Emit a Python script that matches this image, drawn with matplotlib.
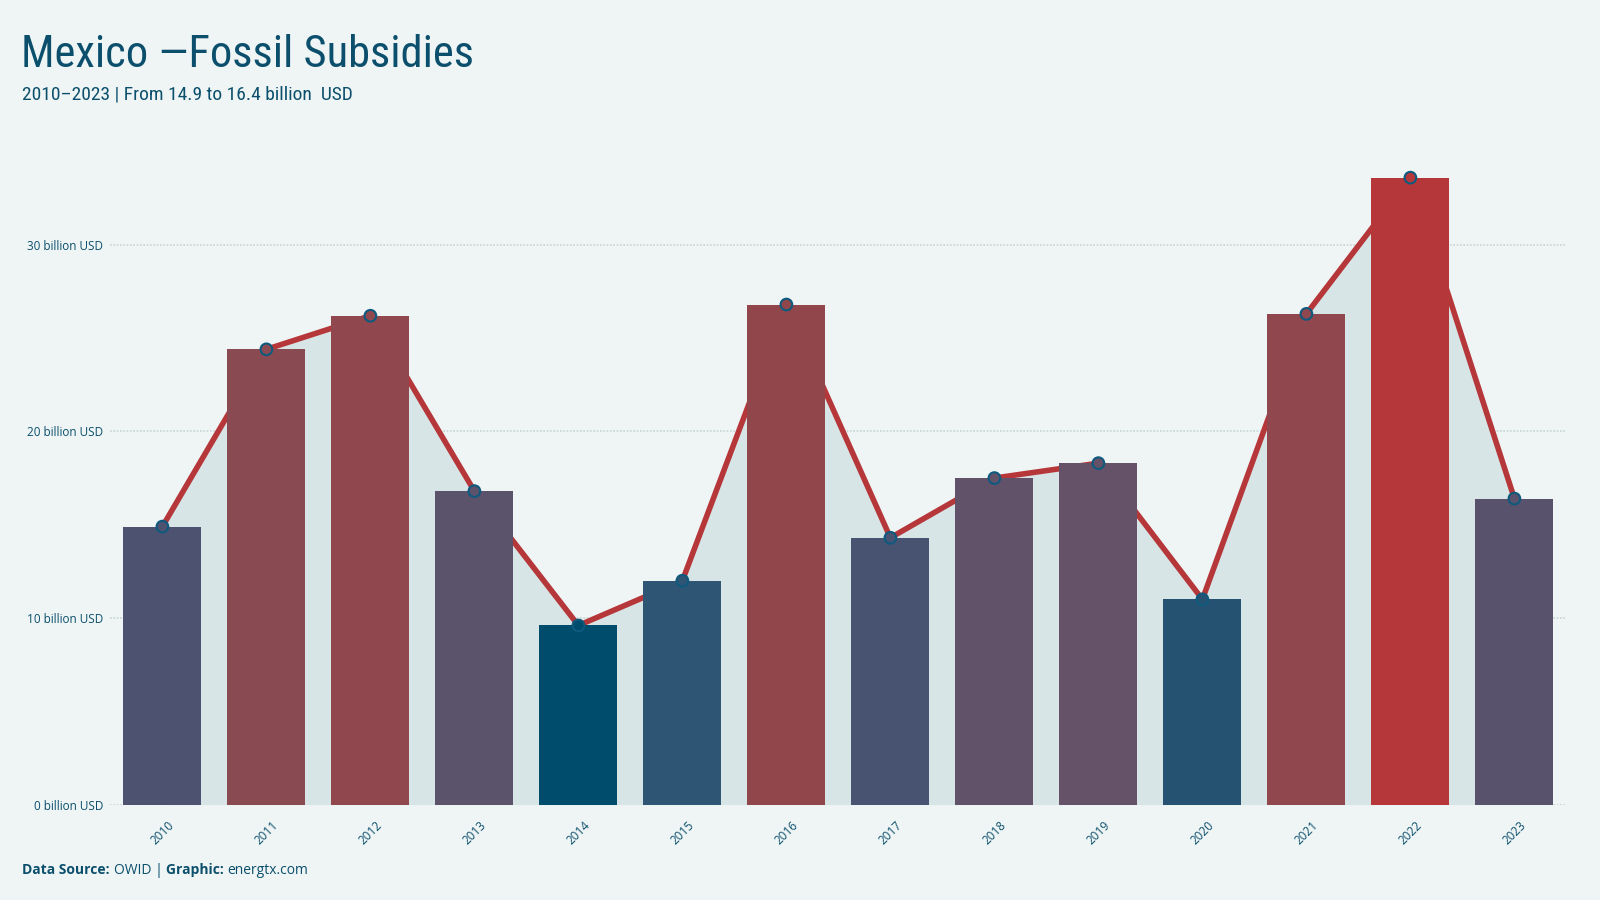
import numpy as np
import matplotlib
matplotlib.use("Agg")
import matplotlib.pyplot as plt
from matplotlib.colors import LinearSegmentedColormap, Normalize

# data (billion USD)
years = ["2010", "2011", "2012", "2013", "2014", "2015", "2016",
         "2017", "2018", "2019", "2020", "2021", "2022", "2023"]
subsidies = [14.9, 24.4, 26.2, 16.8, 9.6, 12.0, 26.8,
             14.3, 17.5, 18.3, 11.0, 26.3, 33.6, 16.4]
y_ticks = [0, 10, 20, 30]
y_tick_labels = ["0 billion USD", "10 billion USD", "20 billion USD", "30 billion USD"]

bg = "#eff5f5"
txt = "#0b4f6c"
red = "#b5373a"

cmap = LinearSegmentedColormap.from_list(
    "bluered",
    [(0.0, "#004c6d"), (0.06, "#2a5371"), (0.1, "#2e5573"), (0.22, "#4d5270"),
     (0.36, "#665268"), (0.62, "#8b4a52"), (0.75, "#934549"), (1.0, "#b5373a")])
norm = Normalize(min(subsidies), max(subsidies))
colors = [cmap(norm(v)) for v in subsidies]

plt.rcParams['font.family'] = ['Open Sans', 'DejaVu Sans']

fig = plt.figure(figsize=(16, 9), dpi=100, facecolor=bg)
ax = fig.add_axes([0.069, 0.106, 0.910, 0.736])
ax.set_facecolor(bg)

x = np.arange(len(years))
ax.fill_between(x, subsidies, 0, color="#d8e5e6", zorder=1, lw=0)
ax.plot(x, subsidies, color=red, lw=4, zorder=2, solid_capstyle="round")
ax.bar(x, subsidies, width=0.75, color=colors, zorder=3)
ax.scatter(x, subsidies, s=70, c=colors, edgecolors="#0e5a7e", linewidths=1.5, zorder=4)

ax.set_xlim(-0.5, 13.5)
ax.set_ylim(0, 35.5)
ax.set_yticks(y_ticks)
ax.set_yticklabels(y_tick_labels)
ax.set_xticks(x)
ax.set_xticklabels(years, rotation=45, ha="center")
ax.tick_params(axis="both", length=0, labelsize=8.5, labelcolor=txt)
ax.tick_params(axis="y", pad=5)
ax.tick_params(axis="x", pad=10)
ax.grid(axis="y", color="#c5d5d6", linestyle=(0, (1, 1)), lw=1.2, zorder=0)
ax.set_axisbelow(True)
for s in ax.spines.values():
    s.set_visible(False)

title_font = ['Roboto Condensed', 'DejaVu Sans']
fig.text(0.013, 0.926, "Mexico \u2014Fossil Subsidies", fontsize=32, color=txt,
         family=title_font, ha="left", va="baseline")
fig.text(0.014, 0.89, "2010\u20132023 | From 14.9 to 16.4 billion  USD", fontsize=14,
         color=txt, family=title_font, ha="left", va="baseline")

# source line
parts = [("Data Source: ", "bold"), ("OWID | ", "normal"),
         ("Graphic: ", "bold"), ("energtx.com", "normal")]
fig.canvas.draw()
r = fig.canvas.get_renderer()
xpos = 0.014
for s, w in parts:
    t = fig.text(xpos, 0.029, s, fontsize=10, color=txt, weight=w,
                 ha="left", va="baseline")
    bb = t.get_window_extent(renderer=r)
    xpos += bb.width / fig.bbox.width

fig.savefig("out.png", dpi=100, facecolor=bg)
